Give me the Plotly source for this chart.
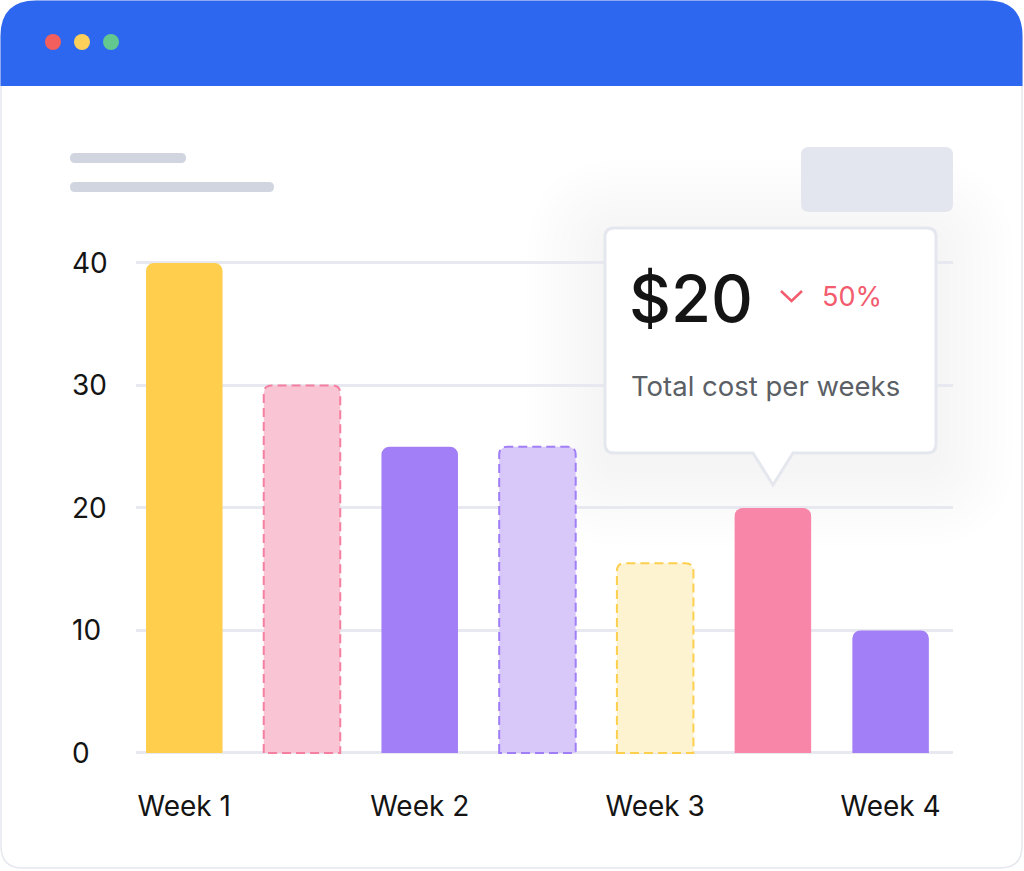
import plotly.graph_objects as go

# data
positions = [0, 1, 2, 3, 4, 5, 6]
values = [40, 30, 25, 25, 15.5, 20, 10]
fill_colors = ["#FECE4C", "#F9C4D4", "#A27FF6", "#D8C8FA", "#FEF3D0", "#F886A8", "#A27FF6"]
dashed = [False, True, False, True, True, False, False]
dash_colors = [None, "#F47FA0", None, "#A07EF5", "#FDCF4E", None, None]
week_pos = [0, 2, 4, 6]
week_labels = ["Week 1", "Week 2", "Week 3", "Week 4"]
y_ticks = [0, 10, 20, 30, 40]

tip_value = "$20"
tip_change = "50%"
tip_caption = "Total cost per weeks"

W, H = 1024, 871
FONT = "Inter"
BAR_W = 0.65
X_RANGE = [-0.41, 6.53]
Y_RANGE = [-0.3, 40.3]
PLOT_X0, PLOT_X1 = 136, 953
PX_PER_Y = 12.25
ZERO_Y = 753
PLOT_Y0 = ZERO_Y - (Y_RANGE[1]) * PX_PER_Y
PLOT_Y1 = ZERO_Y - (Y_RANGE[0]) * PX_PER_Y


def X(x):
    return x / W


def Y(y):
    return 1 - y / H


def rounded_path(x0, y0, x1, y1, rt, rb=None):
    # rounded rect in pixel coords -> paper path
    if rb is None:
        rb = rt
    p = [
        f"M {X(x0 + rt)},{Y(y0)}",
        f"L {X(x1 - rt)},{Y(y0)}",
        f"Q {X(x1)},{Y(y0)} {X(x1)},{Y(y0 + rt)}",
        f"L {X(x1)},{Y(y1 - rb)}",
        f"Q {X(x1)},{Y(y1)} {X(x1 - rb)},{Y(y1)}",
        f"L {X(x0 + rb)},{Y(y1)}",
        f"Q {X(x0)},{Y(y1)} {X(x0)},{Y(y1 - rb)}",
        f"L {X(x0)},{Y(y0 + rt)}",
        f"Q {X(x0)},{Y(y0)} {X(x0 + rt)},{Y(y0)}",
        "Z",
    ]
    return " ".join(p)


shapes = []

# browser window
shapes.append(dict(type="path", xref="paper", yref="paper", layer="below",
                   path=rounded_path(1, 1, 1022, 868, 36, 22),
                   fillcolor="white", line=dict(color="#E6E8EF", width=1.5)))
header = " ".join([
    f"M {X(0.5)},{Y(86)}",
    f"L {X(0.5)},{Y(36)}",
    f"Q {X(0.5)},{Y(0.5)} {X(36)},{Y(0.5)}",
    f"L {X(987)},{Y(0.5)}",
    f"Q {X(1022.5)},{Y(0.5)} {X(1022.5)},{Y(36)}",
    f"L {X(1022.5)},{Y(86)}",
    "Z",
])
shapes.append(dict(type="path", xref="paper", yref="paper", layer="below",
                   path=header, fillcolor="#2D67F0", line=dict(width=0)))
for cx, col in [(53, "#F25F5C"), (82, "#FDD05B"), (111, "#63C88F")]:
    shapes.append(dict(type="circle", xref="paper", yref="paper", layer="below",
                       x0=X(cx - 8), x1=X(cx + 8), y0=Y(42 + 8), y1=Y(42 - 8),
                       fillcolor=col, line=dict(width=0)))

# tooltip shadow (under gridlines and bars)
for k in range(10):
    e = 6 + k * 8
    shapes.append(dict(type="path", xref="paper", yref="paper", layer="below",
                       path=rounded_path(605 - e, 238 - e, 936 + e, 468 + e, 20 + e),
                       fillcolor="rgba(50,55,80,0.0045)", line=dict(width=0)))

# placeholder bits
shapes.append(dict(type="path", xref="paper", yref="paper", layer="below",
                   path=rounded_path(70, 153, 186, 163, 5), fillcolor="#D0D5E0", line=dict(width=0)))
shapes.append(dict(type="path", xref="paper", yref="paper", layer="below",
                   path=rounded_path(70, 182, 274, 192, 5), fillcolor="#D0D5E0", line=dict(width=0)))
shapes.append(dict(type="path", xref="paper", yref="paper", layer="below",
                   path=rounded_path(801, 147, 953, 212, 8), fillcolor="#E3E6EE", line=dict(width=0)))

# dashed outlines for the "ghost" bars, built from the data
px_per_x = (PLOT_X1 - PLOT_X0) / (X_RANGE[1] - X_RANGE[0])
rx, ry = 8 / px_per_x, 8 / PX_PER_Y
for xp, v, d, dc in zip(positions, values, dashed, dash_colors):
    if not d:
        continue
    a, b = xp - BAR_W / 2, xp + BAR_W / 2
    path = (f"M {a},0 L {a},{v - ry} Q {a},{v} {a + rx},{v} "
            f"L {b - rx},{v} Q {b},{v} {b},{v - ry} L {b},0 Z")
    shapes.append(dict(type="path", xref="x", yref="y", layer="above", path=path,
                       line=dict(color=dc, width=2, dash="9px,5px")))

# tooltip box with pointer
tx0, ty0, tx1, ty1, r = 605, 228, 936, 453, 9
tip = " ".join([
    f"M {X(tx0 + r)},{Y(ty0)}",
    f"L {X(tx1 - r)},{Y(ty0)}",
    f"Q {X(tx1)},{Y(ty0)} {X(tx1)},{Y(ty0 + r)}",
    f"L {X(tx1)},{Y(ty1 - r)}",
    f"Q {X(tx1)},{Y(ty1)} {X(tx1 - r)},{Y(ty1)}",
    f"L {X(793)},{Y(ty1)}",
    f"L {X(773)},{Y(485)}",
    f"L {X(753)},{Y(ty1)}",
    f"L {X(tx0 + r)},{Y(ty1)}",
    f"Q {X(tx0)},{Y(ty1)} {X(tx0)},{Y(ty1 - r)}",
    f"L {X(tx0)},{Y(ty0 + r)}",
    f"Q {X(tx0)},{Y(ty0)} {X(tx0 + r)},{Y(ty0)}",
    "Z",
])
shapes.append(dict(type="path", xref="paper", yref="paper", layer="above",
                   path=tip, fillcolor="white", line=dict(color="#E5E7EE", width=3)))
# down chevron
shapes.append(dict(type="path", xref="paper", yref="paper", layer="above",
                   path=f"M {X(781)},{Y(291)} L {X(791.5)},{Y(301)} L {X(802)},{Y(291)}",
                   line=dict(color="#F25C6E", width=2.5)))

annotations = []
for t in y_ticks:
    annotations.append(dict(xref="paper", yref="y", x=X(70), y=t, text=str(t),
                            xanchor="left", yanchor="middle", showarrow=False,
                            font=dict(family=FONT, size=28, color="#141414")))
annotations += [
    dict(xref="paper", yref="paper", x=X(627), y=Y(298), text=tip_value, xanchor="left",
         yanchor="middle", showarrow=False,
         font=dict(family=FONT, size=65, color="#141414", weight=500)),
    dict(xref="paper", yref="paper", x=X(820), y=Y(296), text=tip_change, xanchor="left",
         yanchor="middle", showarrow=False, font=dict(family=FONT, size=27, color="#F25C6E")),
    dict(xref="paper", yref="paper", x=X(629), y=Y(386), text=tip_caption, xanchor="left",
         yanchor="middle", showarrow=False, font=dict(family=FONT, size=27.5, color="#5B5F66")),
]

fig = go.Figure()
fig.add_trace(go.Bar(x=positions, y=values, width=BAR_W,
                     marker=dict(color=fill_colors, line=dict(width=0)),
                     hoverinfo="skip"))

fig.update_layout(
    width=W, height=H,
    margin=dict(l=0, r=0, t=0, b=0),
    paper_bgcolor="white",
    plot_bgcolor="rgba(0,0,0,0)",
    showlegend=False,
    barcornerradius=8,
    shapes=shapes,
    annotations=annotations,
    xaxis=dict(domain=[X(PLOT_X0), X(PLOT_X1)], range=X_RANGE, showgrid=False,
               zeroline=False, showline=False, tickvals=week_pos, ticktext=week_labels,
               ticks="outside", ticklen=25, tickcolor="rgba(0,0,0,0)",
               tickfont=dict(family=FONT, size=28, color="#141414")),
    yaxis=dict(domain=[Y(PLOT_Y1), Y(PLOT_Y0)], range=Y_RANGE, tickvals=y_ticks,
               showticklabels=False, showgrid=True, gridcolor="#E8E9F0", gridwidth=3,
               zeroline=False, showline=False),
)

fig.write_html("out.html", config={"displayModeBar": False},
               post_script="document.body.style.margin='0';")
